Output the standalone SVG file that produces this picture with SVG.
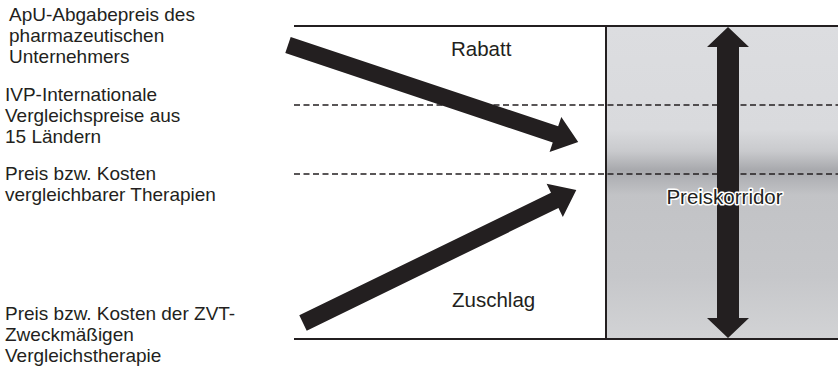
<svg xmlns="http://www.w3.org/2000/svg" width="838" height="368" viewBox="0 0 838 368">
  <defs>
    <linearGradient id="corr" x1="0" y1="0" x2="0" y2="1">
      <stop offset="0" stop-color="#dcdde0"/>
      <stop offset="0.33" stop-color="#d9dadd"/>
      <stop offset="0.40" stop-color="#c9cacd"/>
      <stop offset="0.46" stop-color="#a8a9ad"/>
      <stop offset="0.49" stop-color="#b2b3b7"/>
      <stop offset="0.54" stop-color="#c2c3c6"/>
      <stop offset="0.80" stop-color="#c6c7ca"/>
      <stop offset="1" stop-color="#d2d3d5"/>
    </linearGradient>
    <style>
      .lbl { font-family: "Liberation Sans", Arial, sans-serif; font-size: 19px; fill: #231f20; }
      .big { font-size: 20.5px; }
      .solid { stroke: #231f20; stroke-width: 2; fill: none; }
      .dash { stroke: #231f20; stroke-width: 1.5; stroke-dasharray: 6 3.5; fill: none; }
      .arrow { fill: #231f20; }
      .halo { paint-order: stroke; stroke: #ffffff; stroke-width: 3px; stroke-linejoin: round; }
    </style>
  </defs>

  <g id="corridor-area">
    <rect x="606" y="26" width="232" height="313" fill="url(#corr)"/>
  </g>

  <g id="frame">
    <line class="solid" x1="294" y1="26" x2="838" y2="26"/>
    <line class="solid" x1="294" y1="339" x2="838" y2="339"/>
    <line class="solid" x1="606" y1="26" x2="606" y2="339"/>
    <line class="dash" x1="294" y1="105" x2="838" y2="105"/>
    <line class="dash" x1="294" y1="174" x2="838" y2="174"/>
  </g>

  <g id="labels-left">
    <text class="lbl"><tspan x="9" y="21">ApU-Abgabepreis des</tspan><tspan x="9" y="42">pharmazeutischen</tspan><tspan x="9" y="63">Unternehmers</tspan></text>
    <text class="lbl"><tspan x="5" y="101">IVP-Internationale</tspan><tspan x="5" y="122">Vergleichspreise aus</tspan><tspan x="5" y="143">15 Ländern</tspan></text>
    <text class="lbl"><tspan x="5" y="180">Preis bzw. Kosten</tspan><tspan x="5" y="201">vergleichbarer Therapien</tspan></text>
    <text class="lbl"><tspan x="5" y="320">Preis bzw. Kosten der ZVT-</tspan><tspan x="5" y="341">Zweckmäßigen</tspan><tspan x="5" y="362">Vergleichstherapie</tspan></text>
  </g>

  <g id="node-rabatt">
    <text class="lbl big" x="451" y="56">Rabatt</text>
  </g>
  <g id="node-zuschlag">
    <text class="lbl big" x="452" y="307">Zuschlag</text>
  </g>

  <g id="connectors">
    <g transform="translate(288,45) rotate(18.49)">
      <polygon class="arrow" points="0,-8.5 282,-8.5 282,-18.5 306,0 282,18.5 282,8.5 0,8.5"/>
    </g>
    <g transform="translate(303,323) rotate(-25.97)">
      <polygon class="arrow" points="0,-8.5 280,-8.5 280,-18.5 304,0 280,18.5 280,8.5 0,8.5"/>
    </g>
    <polygon class="arrow" points="728,27 749,47 739,47 739,318 749,318 728,338 707,318 717,318 717,47 707,47"/>
  </g>

  <g id="node-preiskorridor">
    <text class="lbl big halo" x="724.5" y="203.5" text-anchor="middle">Preiskorridor</text>
  </g>
</svg>
